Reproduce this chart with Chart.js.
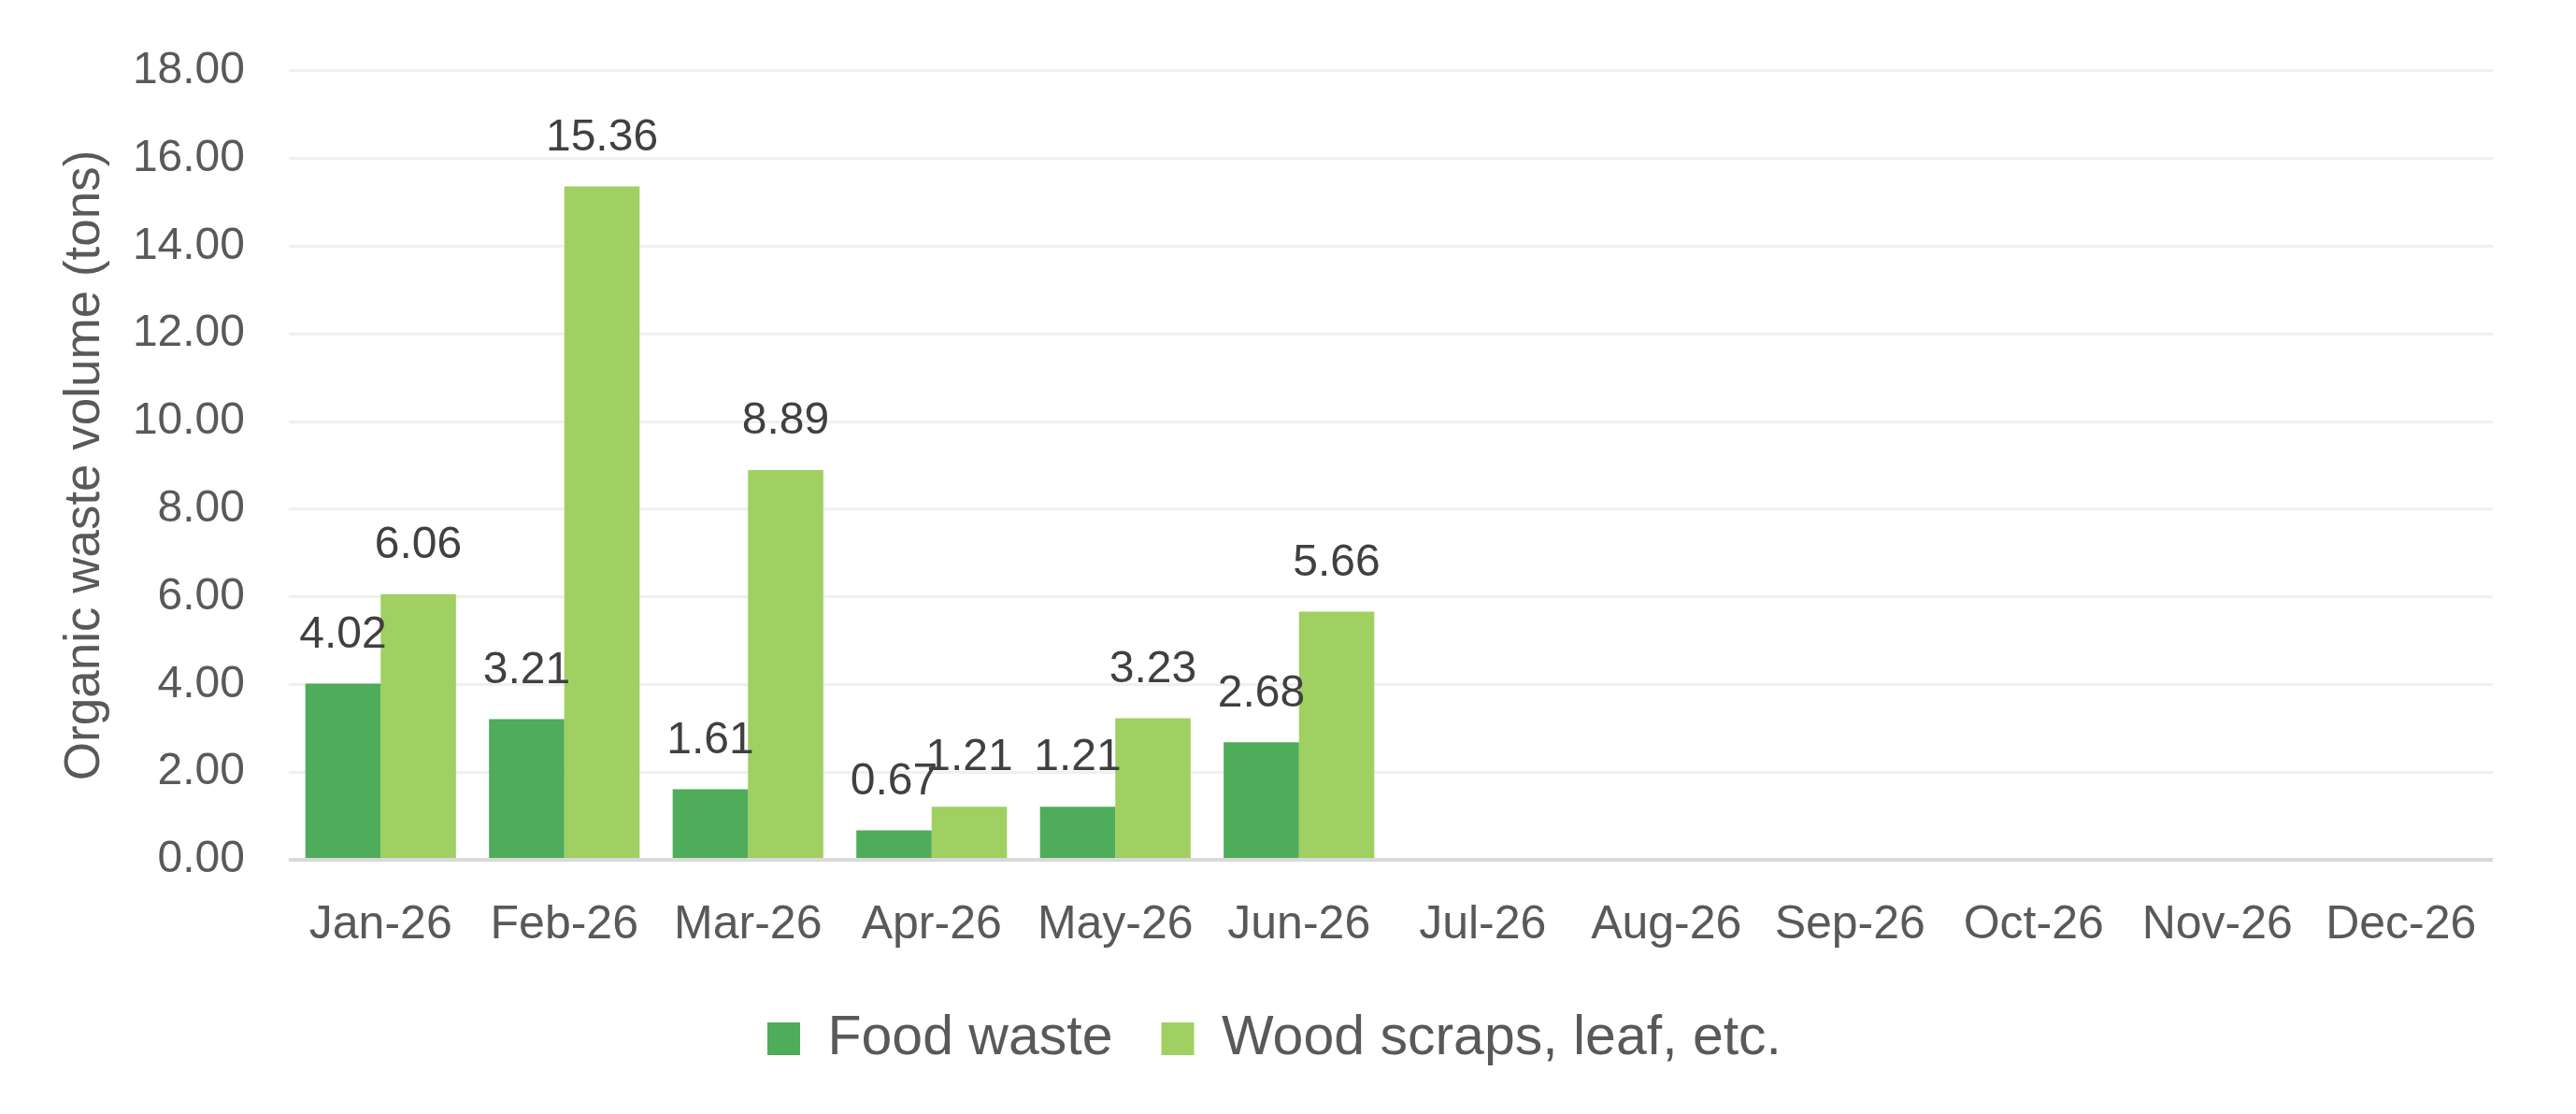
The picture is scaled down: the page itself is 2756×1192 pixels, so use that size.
<!DOCTYPE html>
<html>
<head>
<meta charset="utf-8">
<script src="https://cdn.jsdelivr.net/npm/chart.js@4/dist/chart.umd.min.js"></script>
<style>
  html, body { margin: 0; padding: 0; background: #fff; }
  #chart { display: block; }
</style>
</head>
<body>
<canvas id="chart" width="2756" height="1192"></canvas>
<script>
// 월별 데이터
const months = ["Jan-26", "Feb-26", "Mar-26", "Apr-26", "May-26", "Jun-26",
                "Jul-26", "Aug-26", "Sep-26", "Oct-26", "Nov-26", "Dec-26"];
const foodWaste = [4.02, 3.21, 1.61, 0.67, 1.21, 2.68, null, null, null, null, null, null];
const woodScraps = [6.06, 15.36, 8.89, 1.21, 3.23, 5.66, null, null, null, null, null, null];
const seriesNames = ["Food waste", "Wood scraps, leaf, etc."];
const yTitle = "Organic waste volume (tons)";

const FONT = "'Liberation Sans', Arial, sans-serif";

// 막대 위 값 표시
const barLabels = {
    id: 'barLabels',
    afterDatasetsDraw(chart) {
        const ctx = chart.ctx;
        ctx.save();
        ctx.font = "48px " + FONT;
        ctx.fillStyle = "#404040";
        ctx.textAlign = "center";
        ctx.textBaseline = "middle";
        chart.data.datasets.forEach((ds, i) => {
            chart.getDatasetMeta(i).data.forEach((bar, j) => {
                const v = ds.data[j];
                if (v === null || v === undefined) return;
                ctx.fillText(v.toFixed(2), bar.x, bar.y - 52);
            });
        });
        ctx.restore();
    }
};

const chartArea = document.getElementById("chart").getContext('2d');
const myChart = new Chart(chartArea, {
    type: 'bar',
    data: {
        labels: months,
        datasets: [{
            label: seriesNames[0],
            data: foodWaste,
            backgroundColor: "#4EAC5B",
            categoryPercentage: 0.82,
            barPercentage: 1.0
        }, {
            label: seriesNames[1],
            data: woodScraps,
            backgroundColor: "#A0CF62",
            categoryPercentage: 0.82,
            barPercentage: 1.0
        }]
    },
    options: {
        responsive: false,
        maintainAspectRatio: false,
        animation: false,
        layout: {
            padding: { left: 60, right: 89, top: 62, bottom: 41 }
        },
        plugins: {
            legend: {
                position: 'bottom',
                labels: {
                    font: { family: FONT, size: 59 },
                    color: "#595959",
                    boxWidth: 35,
                    boxHeight: 35,
                    padding: 52
                }
            },
            tooltip: { enabled: false }
        },
        scales: {
            x: {
                grid: { display: false, drawTicks: false },
                border: { display: false },
                ticks: {
                    font: { family: FONT, size: 50 },
                    color: "#595959",
                    padding: 40,
                    maxRotation: 0,
                    autoSkip: false
                },
                afterFit: (s) => { s.height = 110; }
            },
            y: {
                min: 0,
                max: 18,
                grid: {
                    drawTicks: false,
                    lineWidth: (c) => c.tick && c.tick.value === 0 ? 4 : 3,
                    color: (c) => c.tick && c.tick.value === 0 ? "#D9D9D9" : "#F0F0F0"
                },
                border: { display: false },
                ticks: {
                    stepSize: 2,
                    font: { family: FONT, size: 48 },
                    color: "#595959",
                    padding: 47,
                    callback: (v) => Number(v).toFixed(2)
                },
                title: {
                    display: true,
                    text: yTitle,
                    font: { family: FONT, size: 53 },
                    color: "#595959",
                    padding: 0
                },
                afterFit: (s) => { s.width = 249; }
            }
        }
    },
    plugins: [barLabels]
});
</script>
</body>
</html>
